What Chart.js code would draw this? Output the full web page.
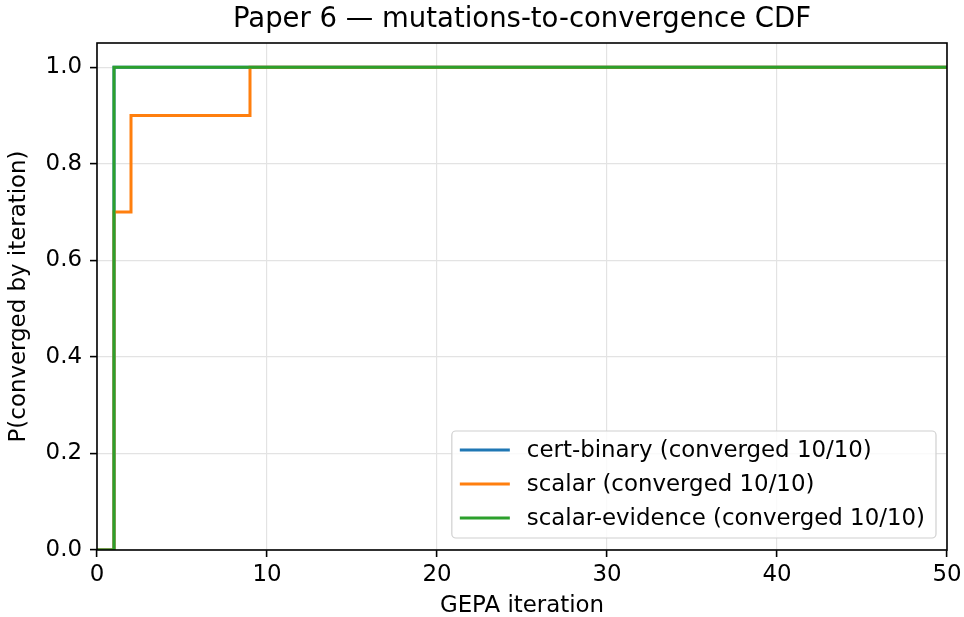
<!DOCTYPE html>
<html>
<head>
<meta charset="utf-8">
<script src="https://cdn.jsdelivr.net/npm/chart.js@4"></script>
<style>
    body { margin: 0; background: #fff; }
    #wrap { width: 964px; height: 617px; }
</style>
</head>
<body>
<div id="wrap"><canvas id="chartCanvas" width="964" height="617"></canvas></div>
<script>
// data
const seriesNames = [
    'cert-binary (converged 10/10)',
    'scalar (converged 10/10)',
    'scalar-evidence (converged 10/10)'
];
const certBinaryX = [0, 1, 50];
const certBinaryY = [0, 1.0, 1.0];
const scalarX = [0, 1, 2, 9, 50];
const scalarY = [0, 0.7, 0.9, 1.0, 1.0];
const evidenceX = [0, 1, 50];
const evidenceY = [0, 1.0, 1.0];

const xTicks = [0, 10, 20, 30, 40, 50];
const yTicks = [0, 0.2, 0.4, 0.6, 0.8, 1.0];

const chartTitle = 'Paper 6 — mutations-to-convergence CDF';

const FONT = 'DejaVu Sans';
const FS = 22.9;
const colors = ['#1f77b4', '#ff7f0e', '#2ca02c'];

function toPoints(xs, ys) {
    return xs.map((x, i) => ({ x: x, y: ys[i] }));
}

// box around the plot (matplotlib spines) + title centred over the axes
const framePlugin = {
    id: 'frame',
    afterDatasetsDraw(chart) {
        const a = chart.chartArea;
        const ctx = chart.ctx;
        ctx.save();
        ctx.strokeStyle = '#000';
        ctx.lineWidth = 1.6;
        ctx.strokeRect(a.left, a.top, a.right - a.left, a.bottom - a.top);

        ctx.fillStyle = '#000';
        ctx.font = '27.5px "' + FONT + '"';
        ctx.textAlign = 'center';
        ctx.textBaseline = 'middle';
        ctx.fillText(chartTitle, (a.left + a.right) / 2, 20);
        ctx.restore();
    }
};

// legend in the lower right corner of the plot
const innerLegend = {
    id: 'innerLegend',
    afterDraw(chart) {
        const a = chart.chartArea;
        const ctx = chart.ctx;
        const ds = chart.data.datasets;
        ctx.save();
        ctx.font = FS + 'px "' + FONT + '"';
        let textW = 0;
        ds.forEach(d => { textW = Math.max(textW, ctx.measureText(d.label).width); });

        const padL = 8, lineLen = 50, gap = 17, padR = 11;
        const rowH = 34, padT = 19, padB = 20;
        const w = padL + lineLen + gap + textW + padR;
        const h = padT + rowH * (ds.length - 1) + padB;
        const right = a.right - 11;
        const bottom = a.bottom - 12;
        const left = right - w;
        const top = bottom - h;

        ctx.beginPath();
        ctx.roundRect(left, top, w, h, 4);
        ctx.fillStyle = 'rgba(255,255,255,0.8)';
        ctx.fill();
        ctx.strokeStyle = '#d0d0d0';
        ctx.lineWidth = 1.2;
        ctx.stroke();

        ds.forEach((d, i) => {
            const y = top + padT + i * rowH;
            ctx.beginPath();
            ctx.moveTo(left + padL, y);
            ctx.lineTo(left + padL + lineLen, y);
            ctx.strokeStyle = d.borderColor;
            ctx.lineWidth = 3;
            ctx.stroke();
            ctx.fillStyle = '#000';
            ctx.textBaseline = 'middle';
            ctx.textAlign = 'left';
            ctx.fillText(d.label, left + padL + lineLen + gap, y + 1);
        });
        ctx.restore();
    }
};

const canvas = document.getElementById('chartCanvas');
const chart = new Chart(canvas, {
    type: 'line',
    data: {
        datasets: [
            {
                label: seriesNames[0],
                data: toPoints(certBinaryX, certBinaryY),
                borderColor: colors[0],
                order: 3
            },
            {
                label: seriesNames[1],
                data: toPoints(scalarX, scalarY),
                borderColor: colors[1],
                order: 2
            },
            {
                label: seriesNames[2],
                data: toPoints(evidenceX, evidenceY),
                borderColor: colors[2],
                order: 1
            }
        ].map(d => Object.assign(d, {
            stepped: 'before',
            borderWidth: 3,
            pointRadius: 0,
            pointHoverRadius: 0,
            fill: false,
            tension: 0
        }))
    },
    options: {
        responsive: false,
        animation: false,
        layout: { padding: { left: 0, right: 17, top: 43, bottom: 0 } },
        plugins: {
            legend: { display: false },
            tooltip: { enabled: false },
            title: { display: false }
        },
        scales: {
            x: {
                type: 'linear',
                min: 0,
                max: 50,
                afterBuildTicks: function(scale) {
                    scale.ticks = xTicks.map(v => ({ value: v }));
                },
                afterFit: function(scale) {
                    scale.height = 67;
                    scale.paddingLeft = 0;
                    scale.paddingRight = 0;
                },
                grid: {
                    color: '#e3e3e3',
                    lineWidth: 1.2,
                    tickColor: '#000',
                    tickWidth: 1.6,
                    tickLength: 7
                },
                border: { display: false },
                ticks: {
                    color: '#000',
                    padding: 4,
                    maxRotation: 0,
                    font: { family: FONT, size: FS },
                    callback: v => String(v)
                },
                title: {
                    display: true,
                    text: 'GEPA iteration',
                    color: '#000',
                    font: { family: FONT, size: FS, lineHeight: 1.0 },
                    padding: { top: 0, bottom: 0 }
                }
            },
            y: {
                type: 'linear',
                min: 0,
                max: 1.05,
                afterBuildTicks: function(scale) {
                    scale.ticks = yTicks.map(v => ({ value: v }));
                },
                afterFit: function(scale) {
                    scale.width = 97;
                    scale.paddingTop = 0;
                    scale.paddingBottom = 0;
                },
                grid: {
                    color: '#e3e3e3',
                    lineWidth: 1.2,
                    tickColor: '#000',
                    tickWidth: 1.6,
                    tickLength: 7
                },
                border: { display: false },
                ticks: {
                    color: '#000',
                    padding: 8,
                    font: { family: FONT, size: FS },
                    callback: v => Number(v).toFixed(1)
                },
                title: {
                    display: true,
                    text: 'P(converged by iteration)',
                    color: '#000',
                    font: { family: FONT, size: FS, lineHeight: 1.0 },
                    padding: { top: 8, bottom: 0 }
                }
            }
        }
    },
    plugins: [framePlugin, innerLegend]
});
</script>
</body>
</html>
